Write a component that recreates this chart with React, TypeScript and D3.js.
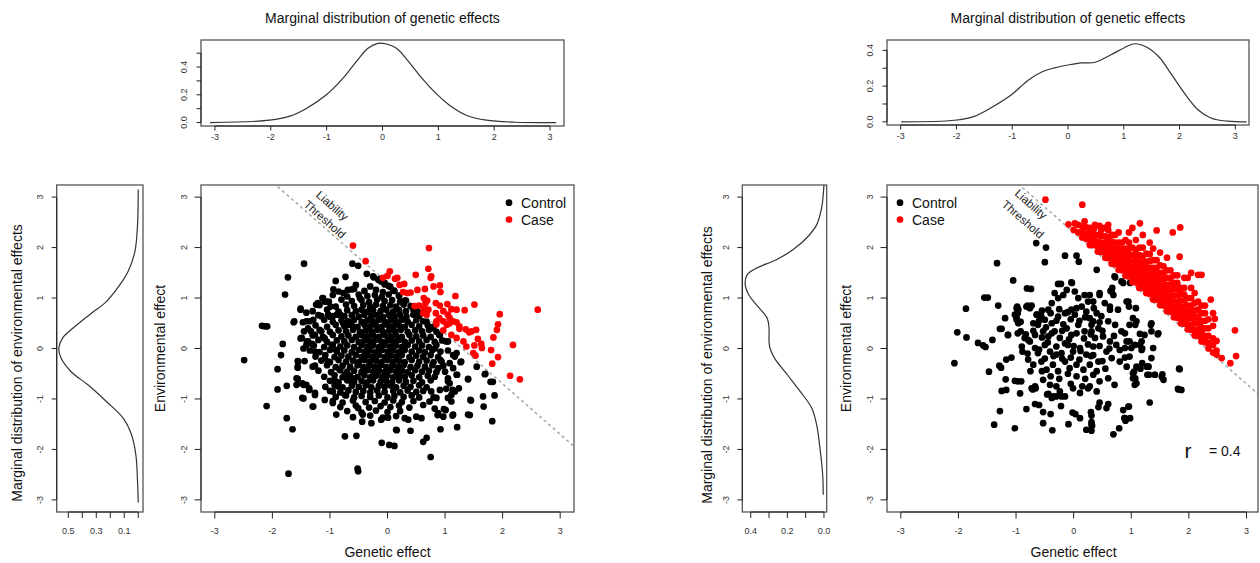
import React, { useRef, useEffect } from "react";
import * as d3 from "d3";

type Pt = [number, number];

// tick values / labels
const effectTicks = [-3, -2, -1, 0, 1, 2, 3];
const densTicksA = [0, 0.1, 0.2, 0.3, 0.4, 0.5];
const densTopLabelsA = [0, 0.2, 0.4];
const densSideLabelsA = [0.1, 0.3, 0.5];
const densTicksB = [0, 0.1, 0.2, 0.3, 0.4];
const densLabelsB = [0, 0.2, 0.4];

const titleText = "Marginal distribution of genetic effects";
const sideTitleText = "Marginal distribution of environmental effects";
const xLabelText = "Genetic effect";
const yLabelText = "Environmental effect";
const legendLabels = ["Control", "Case"];
const thresholdLabels = ["Liability", "Threshold"];

// liability thresholds (genetic + environmental)
const thresholdA = 1.3;
const thresholdB = 2.3;
const corrSymbol = "r";
const corrValue = "= 0.4";

// marginal densities [effect, density]
const genDensityA: Pt[] = [
  [-3.09, 0], [-2.02, 0.017], [-1.66, 0.046], [-1.37, 0.1], [-1.01, 0.198], [-0.71, 0.318],
  [-0.47, 0.439], [-0.26, 0.535], [-0.08, 0.571], [0.07, 0.566], [0.25, 0.535], [0.42, 0.463],
  [0.66, 0.342], [0.9, 0.234], [1.2, 0.125], [1.5, 0.053], [1.86, 0.017], [2.39, 0.002], [3.11, 0],
];
const envDensityA: Pt[] = [
  [-3.05, 0], [-2.64, 0.005], [-2.11, 0.017], [-1.71, 0.048], [-1.38, 0.108], [-1.05, 0.228],
  [-0.72, 0.36], [-0.46, 0.48], [-0.19, 0.552], [0.01, 0.568], [0.21, 0.54], [0.4, 0.468],
  [0.67, 0.348], [0.93, 0.228], [1.26, 0.132], [1.53, 0.072], [1.92, 0.024], [2.45, 0.005], [3.15, 0],
];
const genDensityB: Pt[] = [
  [-2.99, 0], [-2.03, 0.009], [-1.68, 0.031], [-1.44, 0.068], [-1.02, 0.15], [-0.72, 0.232],
  [-0.48, 0.278], [-0.24, 0.302], [0.0, 0.318], [0.24, 0.33], [0.47, 0.332], [0.77, 0.375],
  [1.01, 0.415], [1.19, 0.437], [1.43, 0.415], [1.64, 0.36], [1.85, 0.268], [2.09, 0.159],
  [2.33, 0.068], [2.56, 0.022], [2.86, 0.004], [3.2, 0],
];
const envDensityB: Pt[] = [
  [-2.9, 0.004], [-2.5, 0.007], [-1.97, 0.022], [-1.51, 0.04], [-1.18, 0.067], [-0.85, 0.13],
  [-0.52, 0.2], [-0.19, 0.27], [0.01, 0.295], [0.14, 0.3], [0.4, 0.3], [0.6, 0.31], [0.87, 0.37],
  [1.06, 0.41], [1.26, 0.43], [1.46, 0.42], [1.59, 0.37], [1.76, 0.26], [1.96, 0.168],
  [2.19, 0.095], [2.45, 0.04], [2.78, 0.013], [3.24, 0],
];

// left figure: [genetic, environmental]
const controlA: Pt[] = [
  [-2.49, -0.23], [-2.18, 0.45], [-2.13, 0.44], [-2.09, 0.44], [-2.1, -1.14], [-1.91, -0.41], [-1.91, -0.81],
  [-1.85, -0.13], [-1.82, 0.09], [-1.78, 1.07], [-1.73, 1.41], [-1.75, -0.74], [-1.75, -1.38], [-1.72, -2.48],
  [-1.65, -1.6], [-1.62, 0.54], [-1.45, 1.68], [-1.51, 0.77], [-1.49, 0.21], [-1.46, 0.0], [-1.55, -0.26],
  [-1.56, -0.38], [-1.56, -0.6], [-1.58, -0.72], [-1.46, -0.72], [-1.46, -0.99], [-1.36, -0.82], [-1.29, -1.15],
  [-1.26, -0.92], [-1.21, 0.9], [-1.12, 1.0], [-1.07, 0.93], [-0.94, 1.17], [-0.9, 1.34], [-0.73, 1.42],
  [-0.61, 1.68], [-0.51, 1.64], [-0.36, 1.48], [-0.24, 1.41], [-0.13, 1.38], [-0.74, -1.74], [-0.54, -1.73],
  [-0.52, -2.38], [-0.51, -2.43], [-0.1, -1.87], [0.03, -1.91], [0.12, -1.93], [0.16, -1.62], [0.4, -1.63],
  [0.62, -1.85], [0.68, -1.77], [0.75, -2.15], [0.92, -1.6], [1.21, -1.56], [1.43, -1.32], [1.45, -1.03],
  [1.4, -0.61], [1.66, -0.95], [1.67, -1.15], [1.82, -1.44], [1.79, -0.66], [1.83, -0.66], [1.86, -0.93],
  [1.7, -0.5], [1.55, -0.36], [1.27, -0.27], [1.17, -0.16], [1.21, -0.52], [1.24, -0.79], [1.11, -0.92],
  [1.13, -0.82], [1.13, -1.33], [1.01, -1.22], [0.97, -1.35], [0.87, -1.32], [0.82, -1.19], [0.8, -0.97],
  [1.05, -0.59], [1.08, -0.69], [1.0, -0.46], [0.97, -0.34],
  [-0.25, 1.43], [-0.16, 1.36], [-0.11, 1.33], [-0.77, 1.1], [-0.69, 1.16], [-0.58, 1.18], [-0.48, 1.0],
  [-1.13, 1.0], [-1.09, 0.93], [-1.24, 0.87], [-0.99, 0.83], [-1.51, 0.79], [-1.41, 0.71], [-1.63, 0.52],
  [-1.47, 0.52], [-1.41, 0.54], [-1.29, 0.57], [-1.15, 0.64], [-1.03, 0.67], [-0.95, 0.64], [-0.82, 0.67],
  [-0.77, 0.5], [-0.69, 0.47], [-1.33, 0.34], [-1.26, 0.27], [-1.38, 0.4], [-1.51, 0.2], [-1.15, 0.34],
  [-1.09, 0.2], [-0.97, 0.07], [-0.89, -0.03], [-1.41, 0.07], [-1.38, 0.14], [-1.31, 0.09], [-1.26, -0.06],
  [-1.09, -0.19], [-1.03, -0.26], [-1.56, -0.25], [-1.44, -0.25], [-1.56, -0.36], [-1.26, -0.34], [-1.58, -0.59],
  [-1.48, -0.69], [-1.41, -0.72], [-1.36, -0.79], [-1.26, -0.88], [-1.48, -0.98], [-1.3, -1.15], [-1.09, -1.02],
  [-0.95, -0.85], [-0.86, -0.75], [-0.95, -1.08], [-0.89, -1.31], [-0.74, -0.92], [-0.83, -0.42], [-0.74, -0.52],
  [-0.92, -0.62], [-0.63, -0.65], [-0.57, -0.59], [-0.51, -1.18], [-0.43, -1.31], [-0.28, -1.48], [-0.44, -1.45],
  [-0.11, -1.41],
  [1.02, 0.14], [1.28, -0.26], [1.2, -0.52], [1.4, -0.6], [1.69, -0.51], [1.44, -1.02], [1.4, -1.31],
  [1.14, -1.31], [0.88, -1.28], [0.98, -1.2], [1.11, -1.05], [1.17, -0.85], [1.05, -0.98], [1.02, -0.8],
  [0.85, -0.98], [0.91, -0.82], [0.73, -1.05], [0.76, -0.85], [0.62, -1.12], [0.59, -1.38], [0.3, -1.38],
  [0.15, -1.61], [0.36, -1.41], [0.01, -1.37], [0.5, -1.35], [1.2, -0.09], [1.14, -0.13], [1.08, -0.29],
  [1.14, -0.39], [1.05, -0.65], [0.94, -0.26], [0.88, -0.39], [0.82, 0.0], [0.91, 0.27], [0.76, 0.4],
  [0.68, 0.53], [0.55, 0.7], [0.43, 0.83], [0.3, 0.95], [0.2, 1.05], [0.1, 1.15], [0.02, 1.24], [-0.05, 1.3],
  [-0.55, 1.26], [-0.3, 1.23], [-0.05, 1.27], [0.05, 1.22],
  [-0.85, 1.13], [-0.62, 1.17], [-0.4, 1.14], [-0.2, 1.16], [-0.08, 1.12], [0.12, 1.14],
  [-0.95, 1.06], [-0.7, 1.03], [-0.5, 1.07], [-0.35, 1.04], [-0.22, 1.06], [-0.1, 1.02], [0.02, 1.07], [0.2, 1.04],
  [-1.02, 0.93], [-0.8, 0.97], [-0.62, 0.94], [-0.45, 0.96], [-0.32, 0.92], [-0.18, 0.97], [-0.05, 0.94],
  [0.08, 0.96], [0.22, 0.93], [0.32, 0.95],
  [-1.18, 0.86], [-0.9, 0.83], [-0.72, 0.87], [-0.58, 0.84], [-0.42, 0.86], [-0.3, 0.82], [-0.2, 0.87],
  [-0.08, 0.84], [0.05, 0.86], [0.15, 0.83], [0.28, 0.87], [0.4, 0.84],
  [-1.3, 0.74], [-1.05, 0.77], [-0.85, 0.73], [-0.7, 0.76], [-0.55, 0.74], [-0.45, 0.77], [-0.35, 0.73],
  [-0.25, 0.76], [-0.12, 0.74], [-0.02, 0.77], [0.1, 0.73], [0.2, 0.76], [0.32, 0.74], [0.45, 0.77], [0.52, 0.73],
  [-1.2, 0.66], [-1.0, 0.63], [-0.88, 0.67], [-0.75, 0.64], [-0.62, 0.66], [-0.5, 0.63], [-0.4, 0.67],
  [-0.28, 0.64], [-0.18, 0.66], [-0.08, 0.62], [0.02, 0.67], [0.12, 0.64], [0.22, 0.66], [0.33, 0.63],
  [0.45, 0.67], [0.55, 0.64],
  [-1.35, 0.54], [-1.1, 0.57], [-0.95, 0.53], [-0.8, 0.56], [-0.68, 0.54], [-0.58, 0.57], [-0.45, 0.53],
  [-0.35, 0.56], [-0.25, 0.54], [-0.15, 0.57], [-0.05, 0.53], [0.05, 0.56], [0.15, 0.54], [0.25, 0.57],
  [0.35, 0.53], [0.5, 0.56], [0.62, 0.54],
  [-1.25, 0.46], [-1.05, 0.43], [-0.9, 0.47], [-0.75, 0.44], [-0.62, 0.46], [-0.52, 0.43], [-0.4, 0.47],
  [-0.3, 0.44], [-0.2, 0.46], [-0.1, 0.43], [0.0, 0.47], [0.1, 0.44], [0.2, 0.46], [0.3, 0.43], [0.42, 0.47],
  [0.55, 0.44], [0.7, 0.46], [0.8, 0.43],
  [-1.45, 0.34], [-1.18, 0.37], [-1.0, 0.33], [-0.85, 0.36], [-0.72, 0.34], [-0.6, 0.37], [-0.48, 0.33],
  [-0.38, 0.36], [-0.28, 0.34], [-0.18, 0.37], [-0.08, 0.33], [0.03, 0.36], [0.13, 0.34], [0.23, 0.37],
  [0.35, 0.33], [0.48, 0.36], [0.6, 0.34], [0.72, 0.37], [0.85, 0.33],
  [-1.3, 0.26], [-1.12, 0.23], [-0.95, 0.27], [-0.8, 0.24], [-0.68, 0.26], [-0.55, 0.23], [-0.45, 0.27],
  [-0.35, 0.24], [-0.25, 0.26], [-0.15, 0.23], [-0.05, 0.27], [0.05, 0.24], [0.15, 0.26], [0.25, 0.23],
  [0.38, 0.27], [0.5, 0.24], [0.62, 0.26], [0.75, 0.23], [0.9, 0.27],
  [-1.4, 0.14], [-1.2, 0.17], [-1.05, 0.13], [-0.88, 0.16], [-0.75, 0.14], [-0.62, 0.17], [-0.5, 0.13],
  [-0.4, 0.16], [-0.3, 0.14], [-0.2, 0.17], [-0.1, 0.13], [0.0, 0.16], [0.1, 0.14], [0.2, 0.17], [0.3, 0.13],
  [0.42, 0.16], [0.55, 0.14], [0.68, 0.17], [0.82, 0.13], [0.95, 0.16], [1.05, 0.14],
  [-1.28, 0.06], [-1.1, 0.03], [-0.95, 0.07], [-0.82, 0.04], [-0.7, 0.06], [-0.58, 0.03], [-0.45, 0.07],
  [-0.35, 0.04], [-0.25, 0.06], [-0.15, 0.03], [-0.05, 0.07], [0.05, 0.04], [0.15, 0.06], [0.25, 0.03],
  [0.35, 0.07], [0.48, 0.04], [0.6, 0.06], [0.72, 0.03], [0.85, 0.07],
  [-1.35, -0.04], [-1.18, -0.07], [-1.0, -0.03], [-0.88, -0.06], [-0.75, -0.04], [-0.62, -0.07], [-0.5, -0.03],
  [-0.4, -0.06], [-0.3, -0.04], [-0.2, -0.07], [-0.1, -0.03], [0.0, -0.06], [0.1, -0.04], [0.2, -0.07],
  [0.3, -0.03], [0.42, -0.06], [0.55, -0.04], [0.65, -0.07], [0.78, -0.03], [0.92, -0.06], [1.05, -0.04],
  [-1.25, -0.16], [-1.08, -0.13], [-0.92, -0.17], [-0.8, -0.14], [-0.68, -0.16], [-0.55, -0.13], [-0.45, -0.17],
  [-0.35, -0.14], [-0.25, -0.16], [-0.15, -0.13], [-0.05, -0.17], [0.05, -0.14], [0.15, -0.16], [0.25, -0.13],
  [0.38, -0.17], [0.5, -0.14], [0.62, -0.16], [0.75, -0.13], [0.88, -0.17],
  [-1.15, -0.24], [-1.0, -0.27], [-0.85, -0.23], [-0.72, -0.26], [-0.6, -0.24], [-0.5, -0.27], [-0.4, -0.23],
  [-0.3, -0.26], [-0.2, -0.24], [-0.1, -0.27], [0.0, -0.23], [0.1, -0.26], [0.2, -0.24], [0.3, -0.27],
  [0.42, -0.23], [0.55, -0.26], [0.68, -0.24], [0.8, -0.27], [0.92, -0.23],
  [-1.3, -0.36], [-1.05, -0.33], [-0.9, -0.37], [-0.78, -0.34], [-0.65, -0.36], [-0.52, -0.33], [-0.42, -0.37],
  [-0.32, -0.34], [-0.22, -0.36], [-0.12, -0.33], [-0.02, -0.37], [0.08, -0.34], [0.18, -0.36], [0.28, -0.33],
  [0.4, -0.37], [0.52, -0.34], [0.65, -0.36], [0.78, -0.33],
  [-1.2, -0.44], [-0.98, -0.47], [-0.82, -0.43], [-0.7, -0.46], [-0.58, -0.44], [-0.45, -0.47], [-0.35, -0.43],
  [-0.25, -0.46], [-0.15, -0.44], [-0.05, -0.47], [0.05, -0.43], [0.15, -0.46], [0.25, -0.44], [0.35, -0.47],
  [0.48, -0.43], [0.6, -0.46], [0.72, -0.44], [0.85, -0.47],
  [-1.1, -0.56], [-0.92, -0.53], [-0.78, -0.57], [-0.65, -0.54], [-0.52, -0.56], [-0.4, -0.53], [-0.3, -0.57],
  [-0.2, -0.54], [-0.1, -0.56], [0.0, -0.53], [0.1, -0.57], [0.2, -0.54], [0.3, -0.56], [0.42, -0.53],
  [0.55, -0.57], [0.7, -0.54], [0.82, -0.56],
  [-1.0, -0.64], [-0.85, -0.67], [-0.7, -0.63], [-0.58, -0.66], [-0.45, -0.64], [-0.35, -0.67], [-0.25, -0.63],
  [-0.12, -0.66], [-0.02, -0.64], [0.08, -0.67], [0.2, -0.63], [0.32, -0.66], [0.45, -0.64], [0.6, -0.67], [0.75, -0.63],
  [-1.08, -0.76], [-0.92, -0.73], [-0.78, -0.77], [-0.62, -0.74], [-0.5, -0.76], [-0.38, -0.73], [-0.28, -0.77],
  [-0.15, -0.74], [-0.05, -0.76], [0.05, -0.73], [0.15, -0.77], [0.28, -0.74], [0.4, -0.76], [0.55, -0.73], [0.68, -0.77],
  [-1.0, -0.84], [-0.82, -0.87], [-0.68, -0.83], [-0.55, -0.86], [-0.42, -0.84], [-0.3, -0.87], [-0.18, -0.83],
  [-0.05, -0.86], [0.1, -0.84], [0.22, -0.87], [0.35, -0.83], [0.5, -0.86], [0.62, -0.84],
  [-0.9, -0.96], [-0.72, -0.93], [-0.58, -0.97], [-0.45, -0.94], [-0.3, -0.96], [-0.15, -0.93], [0.0, -0.97],
  [0.12, -0.94], [0.28, -0.96], [0.42, -0.93], [0.55, -0.97],
  [-0.95, -1.04], [-0.78, -1.07], [-0.6, -1.03], [-0.38, -1.06], [-0.22, -1.04], [-0.05, -1.07], [0.1, -1.03],
  [0.25, -1.06], [0.45, -1.04],
  [-0.82, -1.16], [-0.55, -1.13], [-0.32, -1.17], [-0.12, -1.14], [0.05, -1.16], [0.2, -1.13], [0.38, -1.17],
  [-0.7, -1.24], [-0.45, -1.27], [-0.2, -1.23], [0.0, -1.26], [0.22, -1.24],
  [-0.6, -1.36], [-0.3, -1.33], [-0.08, -1.37], [0.15, -1.34],
];
const caseA: Pt[] = [
  [-0.6, 2.04], [-0.38, 1.73], [0.72, 1.99], [0.04, 1.53], [0.0, 1.44], [0.13, 1.38], [0.17, 1.4], [0.29, 1.28],
  [0.49, 1.46], [0.71, 1.58], [0.76, 1.43], [0.75, 1.4], [0.27, 1.12], [0.34, 1.1], [0.4, 1.11], [0.52, 1.16],
  [0.65, 1.18], [0.8, 1.23], [0.91, 1.25], [0.92, 1.12], [1.18, 1.04], [0.63, 1.0], [0.69, 0.95], [0.66, 0.9],
  [0.84, 0.9], [0.91, 0.85], [1.04, 0.88], [0.55, 0.85], [0.47, 0.84], [0.63, 0.8], [0.71, 0.77], [0.62, 0.7],
  [0.68, 0.67], [0.84, 0.7], [0.97, 0.74], [1.11, 0.78], [1.2, 0.77], [1.34, 0.76], [1.51, 0.87], [1.95, 0.68],
  [2.61, 0.77], [0.9, 0.6], [0.97, 0.54], [1.08, 0.5], [1.14, 0.54], [1.2, 0.52], [1.03, 0.47], [1.25, 0.44],
  [1.36, 0.38], [1.42, 0.32], [1.54, 0.37], [1.92, 0.48], [1.9, 0.37], [0.97, 0.36], [1.11, 0.27], [1.2, 0.21],
  [1.32, 0.14], [1.46, 0.34], [1.25, 0.39], [1.37, 0.04], [1.51, 0.06], [1.63, 0.09], [1.57, 0.19], [1.64, 0.01],
  [1.84, 0.22], [2.18, 0.07], [1.8, -0.03], [1.92, -0.17], [1.82, -0.3], [1.49, -0.09], [1.53, -0.14],
  [2.13, -0.54], [2.3, -0.61], [0.85, 0.54], [0.85, 0.48], [1.05, 0.67], [1.08, 0.6], [-0.08, 1.4], [0.21, 1.26],
];

// right figure
const controlB: Pt[] = [
  [-2.07, -0.29], [-2.02, 0.32], [-1.87, 0.79], [-1.86, 0.22], [-1.66, 0.11], [-1.57, 0.06], [-1.53, 0.03],
  [-1.55, 1.01], [-1.49, 1.01], [-1.47, -0.46], [-1.41, 0.17], [-1.33, 1.69], [-1.31, 0.85], [-1.29, -0.34],
  [-1.26, -0.38], [-1.25, 0.39], [-1.28, -1.24], [-1.38, -1.51], [-1.25, -0.84], [-1.19, 0.6], [-1.18, -0.61],
  [-1.14, 0.27], [-1.17, -0.22], [-1.08, -0.18], [-1.05, 1.35], [-1.02, -0.64], [-0.97, -0.65], [-0.91, -0.65],
  [-0.93, -0.89], [-1.02, -1.58], [-0.99, 0.8], [-0.97, 0.7], [-0.99, 0.6], [-0.96, 0.5], [-0.97, 0.3],
  [-0.83, 0.28], [-0.79, 0.17], [-0.81, 1.19], [-0.74, 1.18], [-0.82, -1.2], [-0.8, 0.85], [-0.73, 0.85],
  [-0.71, -0.81], [-0.66, -0.79], [-0.67, -1.1], [-0.6, -1.12], [-0.65, 2.09], [-0.64, 0.67], [-0.59, 0.64],
  [-0.53, -1.26], [-0.53, -1.48], [-0.5, 1.71], [-0.48, 2.0], [-0.4, -1.3], [-0.37, -1.62], [-0.38, -0.98],
  [-0.3, -0.95], [-0.21, -0.95], [-0.46, -0.91], [-0.22, -1.14], [-0.15, 1.84], [-0.09, -1.5], [-0.02, -1.27],
  [0.03, -1.3], [0.11, -1.38], [0.05, 1.84], [0.09, 1.72], [-0.03, 1.3], [0.22, -1.61], [0.31, -1.63],
  [0.31, -1.46], [0.32, -1.53], [0.3, -1.26], [0.31, -1.33], [0.4, 1.56], [0.45, 1.06], [0.45, -1.07],
  [0.43, -1.16], [0.6, -1.1], [0.63, 0.77], [0.67, 1.2], [0.64, 1.14], [0.69, -1.7], [0.72, 1.41],
  [0.79, -1.58], [0.83, 1.33], [0.86, -1.22], [0.88, -1.38], [0.9, -1.43], [0.96, -1.15], [0.98, -1.38],
  [0.95, 0.93], [0.96, 0.83], [0.98, 1.3], [1.06, 0.07], [1.07, 0.47], [1.08, 0.8], [1.05, -0.46],
  [1.07, -0.59], [1.09, -0.69], [1.18, 0.14], [1.19, 0.0], [1.27, -0.36], [1.3, -0.36], [1.28, -0.52],
  [1.34, 0.47], [1.35, 0.34], [1.32, -1.07], [1.46, 0.28], [1.38, 0.01], [1.41, -0.52], [1.54, -0.51],
  [1.56, -0.62], [1.83, -0.4], [1.82, -0.81], [1.87, -0.82], [1.16, -0.4], [1.19, -0.29], [0.97, 0.14],
  [0.97, -0.16], [0.89, 0.01], [0.89, -0.18],
  [-0.27, 1.28], [-0.22, 1.28], [-0.04, 1.31], [-0.33, 1.1], [-0.27, 1.0], [-0.18, 1.06], [-0.12, 1.16],
  [0.02, 1.13], [0.08, 1.0], [0.19, 1.06], [0.25, 0.93], [-0.38, 0.9], [-0.44, 0.77], [-0.98, 0.83],
  [-0.96, 0.77], [-0.82, 0.83], [-0.76, 0.8], [-1.02, 0.67], [-0.99, 0.57], [-0.92, 0.53], [-0.64, 0.67],
  [-0.56, 0.63], [-0.7, 0.5], [-0.62, 0.47], [-0.5, 0.57], [-0.38, 0.5], [-0.27, 0.63], [-0.15, 0.7],
  [-0.04, 0.77], [0.02, 0.67], [0.14, 0.83], [0.22, 0.73], [-1.28, 0.39], [-1.14, 0.27], [-0.92, 0.34],
  [-0.85, 0.21], [-0.76, 0.14], [-0.67, 0.27], [-0.53, 0.34], [-0.44, 0.24], [-0.33, 0.34], [-0.24, 0.21],
  [-0.12, 0.4], [-0.04, 0.27], [0.08, 0.47], [0.19, 0.34], [0.31, 0.47], [-0.9, 0.04], [-0.89, -0.06],
  [-0.67, 0.01], [-0.62, -0.09], [-0.5, 0.07], [-0.41, -0.06], [-0.3, 0.04], [-0.21, -0.09], [-0.1, 0.07],
  [-0.01, -0.06], [0.11, 0.01], [0.22, -0.12], [0.34, 0.04], [-0.79, -0.22], [-0.7, -0.32], [-0.56, -0.26],
  [-0.47, -0.42], [-0.36, -0.32], [-0.27, -0.45], [-0.15, -0.26], [-0.07, -0.39], [0.05, -0.32], [0.17, -0.42],
  [0.28, -0.32], [-1.17, -0.82], [-0.73, -0.79], [-0.67, -0.75], [-0.53, -0.62], [-0.41, -0.72], [-0.44, -0.9],
  [-0.36, -0.95], [-0.24, -0.85], [-0.15, -0.95], [-0.01, -0.79], [0.11, -0.88], [0.25, -0.79],
  [0.71, 1.43], [0.86, 1.3], [0.66, 1.13], [0.69, 1.06], [0.45, 1.1], [0.28, 1.06], [0.34, 0.93], [0.54, 0.9],
  [0.63, 0.83], [0.77, 0.77], [0.92, 0.93], [0.4, 0.7], [0.48, 0.64], [0.34, 0.54], [0.43, 0.4], [0.6, 0.54],
  [0.72, 0.47], [0.83, 0.34], [0.89, 0.3], [1.03, 0.6], [1.09, 0.54], [0.97, 0.47], [1.35, 0.5], [1.47, 0.3],
  [1.15, 0.29], [1.23, 0.27], [0.31, 0.34], [0.37, 0.21], [0.51, 0.24], [0.63, 0.14], [0.74, 0.07], [0.8, -0.03],
  [0.92, 0.14], [1.0, 0.01], [1.15, 0.07], [1.18, -0.03], [1.35, -0.19], [0.34, -0.13], [0.43, -0.26],
  [0.57, -0.06], [0.66, -0.19], [0.8, -0.26], [0.92, -0.36], [1.09, -0.36], [1.03, -0.49], [1.29, -0.36],
  [1.31, -0.52], [1.41, -0.52], [1.53, -0.56], [1.84, -0.41], [1.81, -0.8], [0.34, -0.52], [0.45, -0.65],
  [0.6, -0.59], [0.71, -0.72], [0.28, -0.75], [1.03, -0.59], [1.06, -0.72], [0.57, -1.18], [0.95, -1.15],
  [0.89, -1.38], [0.31, -1.51],
  [-0.55, 0.75], [-0.4, 0.7], [-0.25, 0.78], [-0.1, 0.72], [0.05, 0.8], [0.2, 0.62], [0.35, 0.8],
  [-0.6, 0.55], [-0.48, 0.42], [-0.3, 0.55], [-0.18, 0.48], [-0.05, 0.58], [0.1, 0.55], [0.28, 0.6], [0.45, 0.52],
  [-0.55, 0.22], [-0.38, 0.3], [-0.2, 0.35], [-0.08, 0.18], [0.05, 0.3], [0.18, 0.2], [0.3, 0.28], [0.5, 0.35],
  [-0.6, -0.02], [-0.45, 0.12], [-0.3, -0.12], [-0.15, 0.1], [0.0, 0.05], [0.12, -0.05], [0.25, 0.08], [0.45, 0.05],
  [-0.5, -0.2], [-0.35, -0.15], [-0.2, -0.2], [-0.05, -0.18], [0.1, -0.22], [0.3, -0.15], [0.5, -0.25],
  [-0.55, -0.45], [-0.4, -0.55], [-0.25, -0.6], [-0.1, -0.5], [0.05, -0.55], [0.2, -0.6], [0.4, -0.45],
  [-0.3, -0.75], [-0.05, -0.7], [0.15, -0.75], [0.4, -0.85], [0.55, -0.4], [0.62, 0.0], [0.7, 0.25],
  [-0.7, 0.35], [-0.8, -0.1], [-0.75, -0.45],
];
const caseB: Pt[] = [
  [-0.49, 2.95], [0.15, 2.85], [-0.09, 2.46], [0.02, 2.48], [0.19, 2.52], [0.37, 2.45], [0.45, 2.43],
  [0.54, 2.39], [0.6, 2.45], [1.02, 2.39], [1.15, 2.48], [1.44, 2.34], [1.72, 2.3], [1.85, 2.4], [1.84, 1.82],
  [2.16, 1.46], [2.22, 1.46], [2.38, 0.97], [2.42, 0.7], [2.45, 0.59],
  [0.0, 2.35], [0.08, 2.3], [0.08, 2.45], [0.15, 2.2], [0.15, 2.3], [0.15, 2.42],
  [0.22, 2.17], [0.22, 2.27], [0.22, 2.4], [0.28, 2.05], [0.28, 2.15], [0.28, 2.27], [0.28, 2.39],
  [0.35, 2.05], [0.35, 2.15], [0.35, 2.25], [0.35, 2.37], [0.42, 1.92], [0.42, 2.02], [0.42, 2.12], [0.42, 2.25],
  [0.48, 1.91], [0.48, 2.0], [0.48, 2.1], [0.48, 2.23], [0.48, 2.35],
  [0.55, 1.8], [0.55, 1.9], [0.55, 2.0], [0.55, 2.1], [0.55, 2.22],
  [0.6, 1.79], [0.6, 1.89], [0.6, 2.0], [0.6, 2.1], [0.6, 2.2], [0.6, 2.35],
  [0.66, 1.68], [0.66, 1.78], [0.66, 1.9], [0.66, 2.0], [0.66, 2.12], [0.66, 2.25],
  [0.72, 1.67], [0.72, 1.77], [0.72, 1.87], [0.72, 1.98], [0.72, 2.1], [0.72, 2.25],
  [0.78, 1.56], [0.78, 1.66], [0.78, 1.76], [0.78, 1.86], [0.78, 1.98], [0.78, 2.1], [0.78, 2.3],
  [0.84, 1.55], [0.84, 1.65], [0.84, 1.75], [0.84, 1.85], [0.84, 1.97], [0.84, 2.1],
  [0.9, 1.44], [0.9, 1.54], [0.9, 1.64], [0.9, 1.74], [0.9, 1.85], [0.9, 1.98], [0.9, 2.15],
  [0.96, 1.43], [0.96, 1.53], [0.96, 1.63], [0.96, 1.73], [0.96, 1.85], [0.96, 1.97], [0.96, 2.1], [0.96, 2.3],
  [1.02, 1.32], [1.02, 1.42], [1.02, 1.52], [1.02, 1.62], [1.02, 1.72], [1.02, 1.85], [1.02, 2.0],
  [1.08, 1.31], [1.08, 1.41], [1.08, 1.51], [1.08, 1.61], [1.08, 1.71], [1.08, 1.83], [1.08, 1.95], [1.08, 2.15],
  [1.14, 1.2], [1.14, 1.3], [1.14, 1.4], [1.14, 1.5], [1.14, 1.6], [1.14, 1.72], [1.14, 1.85], [1.14, 2.0],
  [1.2, 1.2], [1.2, 1.29], [1.2, 1.39], [1.2, 1.49], [1.2, 1.59], [1.2, 1.7], [1.2, 1.83], [1.2, 2.0], [1.2, 2.25],
  [1.26, 1.1], [1.26, 1.18], [1.26, 1.28], [1.26, 1.38], [1.26, 1.48], [1.26, 1.6], [1.26, 1.72], [1.26, 1.88],
  [1.32, 1.08], [1.32, 1.17], [1.32, 1.27], [1.32, 1.37], [1.32, 1.47], [1.32, 1.6], [1.32, 1.73], [1.32, 1.87], [1.32, 2.1],
  [1.38, 0.97], [1.38, 1.06], [1.38, 1.16], [1.38, 1.26], [1.38, 1.36], [1.38, 1.48], [1.38, 1.6], [1.38, 1.75], [1.38, 1.98],
  [1.44, 0.97], [1.44, 1.05], [1.44, 1.15], [1.44, 1.25], [1.44, 1.35], [1.44, 1.47], [1.44, 1.6], [1.44, 1.75],
  [1.5, 0.86], [1.5, 0.95], [1.5, 1.05], [1.5, 1.15], [1.5, 1.25], [1.5, 1.38], [1.5, 1.5], [1.5, 1.65], [1.5, 1.9],
  [1.56, 0.85], [1.56, 0.95], [1.56, 1.05], [1.56, 1.15], [1.56, 1.25], [1.56, 1.37], [1.56, 1.5], [1.56, 1.63],
  [1.62, 0.74], [1.62, 0.84], [1.62, 0.94], [1.62, 1.04], [1.62, 1.14], [1.62, 1.26], [1.62, 1.4], [1.62, 1.55], [1.62, 1.8],
  [1.68, 0.73], [1.68, 0.83], [1.68, 0.93], [1.68, 1.03], [1.68, 1.15], [1.68, 1.27], [1.68, 1.4], [1.68, 1.55],
  [1.74, 0.62], [1.74, 0.72], [1.74, 0.82], [1.74, 0.93], [1.74, 1.05], [1.74, 1.18], [1.74, 1.3], [1.74, 1.45],
  [1.8, 0.61], [1.8, 0.71], [1.8, 0.81], [1.8, 0.92], [1.8, 1.05], [1.8, 1.17], [1.8, 1.3], [1.8, 1.45],
  [1.86, 0.5], [1.86, 0.6], [1.86, 0.7], [1.86, 0.82], [1.86, 0.95], [1.86, 1.08], [1.86, 1.2],
  [1.92, 0.49], [1.92, 0.59], [1.92, 0.7], [1.92, 0.82], [1.92, 0.95], [1.92, 1.07], [1.92, 1.2], [1.92, 1.4],
  [1.98, 0.38], [1.98, 0.48], [1.98, 0.6], [1.98, 0.72], [1.98, 0.85], [1.98, 1.0], [1.98, 1.4],
  [2.04, 0.37], [2.04, 0.47], [2.04, 0.6], [2.04, 0.73], [2.04, 0.85], [2.04, 1.0], [2.04, 1.2], [2.04, 1.5],
  [2.1, 0.26], [2.1, 0.37], [2.1, 0.5], [2.1, 0.62], [2.1, 0.75], [2.1, 0.9], [2.1, 1.1],
  [2.16, 0.25], [2.16, 0.37], [2.16, 0.5], [2.16, 0.63], [2.16, 0.77], [2.16, 0.93],
  [2.22, 0.14], [2.22, 0.21], [2.22, 0.3], [2.22, 0.42], [2.22, 0.55], [2.22, 0.7], [2.22, 0.85],
  [2.28, 0.13], [2.28, 0.25], [2.28, 0.4], [2.28, 0.55], [2.28, 0.7], [2.28, 0.85],
  [2.34, 0.0], [2.34, 0.11], [2.34, 0.25], [2.34, 0.4], [2.34, 0.58],
  [2.42, -0.08], [2.42, 0.07], [2.42, 0.2], [2.42, 0.45],
  [2.48, -0.12], [2.48, -0.04], [2.48, 0.15], [2.57, -0.19], [2.72, -0.29], [2.8, 0.36], [2.82, -0.15],
  [2.32, 0.11], [2.13, 0.37],
];

type Box = { x0: number; y0: number; x1: number; y1: number };

const figures = [
  {
    top: { x0: 201, y0: 40, x1: 564, y1: 126 } as Box,
    topX: [-3.25, 3.25], topY: [-0.025, 0.595],
    topTicks: densTicksA, topLabels: densTopLabelsA,
    side: { x0: 56.7, y0: 185, x1: 143, y1: 512 } as Box,
    sideX: [0.583, -0.034],
    sideTicks: densTicksA, sideLabels: densSideLabelsA,
    sideTitle: { x: 17.3, y: 363 },
    main: { x0: 201, y0: 185, x1: 574, y1: 512 } as Box,
    mainX: [-3.24, 3.24], mainY: [-3.24, 3.24],
    genDensity: genDensityA, envDensity: envDensityA,
    control: controlA, cases: caseA, threshold: thresholdA,
    labelAt: [[-0.96, 2.83], [-1.09, 2.56]] as Pt[],
    legend: { x: 509, y: 202.7 },
    corr: false,
  },
  {
    top: { x0: 887, y0: 40, x1: 1249, y1: 125 } as Box,
    topX: [-3.245, 3.245], topY: [-0.0175, 0.458],
    topTicks: densTicksB, topLabels: densLabelsB,
    side: { x0: 742.3, y0: 185, x1: 826.7, y1: 512 } as Box,
    sideX: [0.446, -0.015],
    sideTicks: densTicksB, sideLabels: densLabelsB,
    sideTitle: { x: 706.7, y: 365 },
    main: { x0: 887, y0: 185, x1: 1258, y1: 512 } as Box,
    mainX: [-3.24, 3.2], mainY: [-3.24, 3.24],
    genDensity: genDensityB, envDensity: envDensityB,
    control: controlB, cases: caseB, threshold: thresholdB,
    labelAt: [[-0.74, 2.86], [-0.88, 2.56]] as Pt[],
    legend: { x: 900, y: 202.7 },
    corr: true,
  },
];

const FONT = "'Liberation Sans', Arial, Helvetica, sans-serif";
const TICK_COLOR = "#333";
const DOT_R = 3.35;

const App = () => {
  const svgRef = useRef<SVGSVGElement>(null);

  useEffect(() => {
    document.body.style.margin = "0";
    const svg = d3.select(svgRef.current);
    svg.selectAll("*").remove();

    const fmt = d3.format(".1f");
    const intFmt = (v: number) => d3.format("d")(v).replace("−", "-");

    const drawBox = (g: any, b: Box) =>
      g.append("rect")
        .attr("x", b.x0).attr("y", b.y0)
        .attr("width", b.x1 - b.x0).attr("height", b.y1 - b.y0)
        .attr("fill", "none").attr("stroke", "#555").attr("stroke-width", 1.3);

    // R style axis: the line only spans first..last tick
    const bottomAxis = (g: any, scale: any, ticks: number[], labels: number[], yPos: number,
      tickLen: number, labelOff: number, format: (v: number) => string) => {
      const a = g.append("g").attr("stroke", "#222");
      a.append("line")
        .attr("x1", scale(ticks[0])).attr("x2", scale(ticks[ticks.length - 1]))
        .attr("y1", yPos).attr("y2", yPos);
      a.selectAll(".tk").data(ticks).enter().append("line")
        .attr("x1", (d: number) => scale(d)).attr("x2", (d: number) => scale(d))
        .attr("y1", yPos).attr("y2", yPos + tickLen);
      g.selectAll(".tl").data(labels).enter().append("text")
        .attr("x", (d: number) => scale(d)).attr("y", yPos + labelOff)
        .attr("text-anchor", "middle").attr("dominant-baseline", "central")
        .style("font-family", FONT).style("font-size", "9px").style("fill", TICK_COLOR)
        .text((d: number) => format(d));
    };

    const leftAxis = (g: any, scale: any, ticks: number[], labels: number[], xPos: number,
      tickLen: number, labelOff: number, format: (v: number) => string) => {
      const a = g.append("g").attr("stroke", "#222");
      a.append("line")
        .attr("y1", scale(ticks[0])).attr("y2", scale(ticks[ticks.length - 1]))
        .attr("x1", xPos).attr("x2", xPos);
      a.selectAll(".tk").data(ticks).enter().append("line")
        .attr("y1", (d: number) => scale(d)).attr("y2", (d: number) => scale(d))
        .attr("x1", xPos).attr("x2", xPos - tickLen);
      g.selectAll(".tl").data(labels).enter().append("text")
        .attr("transform", (d: number) => `translate(${xPos - labelOff},${scale(d)}) rotate(-90)`)
        .attr("text-anchor", "middle").attr("dominant-baseline", "central")
        .style("font-family", FONT).style("font-size", "9px").style("fill", TICK_COLOR)
        .text((d: number) => format(d));
    };

    figures.forEach((f, i) => {
      const g = svg.append("g");

      // ---- top marginal (genetic)
      const tx = d3.scaleLinear().domain(f.topX).range([f.top.x0, f.top.x1]);
      const ty = d3.scaleLinear().domain(f.topY).range([f.top.y1, f.top.y0]);
      drawBox(g, f.top);
      g.append("path")
        .datum(f.genDensity)
        .attr("d", d3.line<Pt>().x((d) => tx(d[0])).y((d) => ty(d[1])).curve(d3.curveCatmullRom.alpha(0.5)))
        .attr("fill", "none").attr("stroke", "#333").attr("stroke-width", 1.2);
      bottomAxis(g.append("g"), tx, effectTicks, effectTicks, f.top.y1, 4.5, 10.7, intFmt);
      leftAxis(g.append("g"), ty, f.topTicks, f.topLabels, f.top.x0, 4.5, 17.5, fmt);
      g.append("text")
        .attr("x", (f.top.x0 + f.top.x1) / 2).attr("y", 18.3)
        .attr("text-anchor", "middle").attr("dominant-baseline", "central")
        .style("font-family", FONT).style("font-size", "14px").style("fill", "#111")
        .text(titleText);

      // ---- side marginal (environmental)
      const sx = d3.scaleLinear().domain(f.sideX).range([f.side.x0, f.side.x1]);
      const sy = d3.scaleLinear().domain(f.mainY).range([f.side.y1, f.side.y0]);
      drawBox(g, f.side);
      g.append("path")
        .datum(f.envDensity)
        .attr("d", d3.line<Pt>().x((d) => sx(d[1])).y((d) => sy(d[0])).curve(d3.curveCatmullRom.alpha(0.5)))
        .attr("fill", "none").attr("stroke", "#333").attr("stroke-width", 1.2);
      bottomAxis(g.append("g"), sx, f.sideTicks, f.sideLabels, f.side.y1, 6, 19, fmt);
      leftAxis(g.append("g"), sy, effectTicks, effectTicks, f.side.x0, 5, 16.7, intFmt);
      g.append("text")
        .attr("transform", `translate(${f.sideTitle.x},${f.sideTitle.y}) rotate(-90)`)
        .attr("text-anchor", "middle").attr("dominant-baseline", "central")
        .style("font-family", FONT).style("font-size", "14px").style("fill", "#111")
        .text(sideTitleText);

      // ---- main scatter
      const mx = d3.scaleLinear().domain(f.mainX).range([f.main.x0, f.main.x1]);
      const my = d3.scaleLinear().domain(f.mainY).range([f.main.y1, f.main.y0]);
      const clipId = `clip-main-${i}`;
      svg.append("defs").append("clipPath").attr("id", clipId)
        .append("rect")
        .attr("x", f.main.x0).attr("y", f.main.y0)
        .attr("width", f.main.x1 - f.main.x0).attr("height", f.main.y1 - f.main.y0);
      const plot = g.append("g").attr("clip-path", `url(#${clipId})`);

      const lx0 = f.mainX[0], lx1 = f.mainX[1];
      plot.append("line")
        .attr("x1", mx(lx0)).attr("y1", my(f.threshold - lx0))
        .attr("x2", mx(lx1)).attr("y2", my(f.threshold - lx1))
        .attr("stroke", "#aaa").attr("stroke-width", 1.6).attr("stroke-dasharray", "3,3");

      plot.selectAll(".ctrl").data(f.control).enter().append("circle")
        .attr("cx", (d: Pt) => mx(d[0])).attr("cy", (d: Pt) => my(d[1]))
        .attr("r", DOT_R).attr("fill", "#000");
      plot.selectAll(".case").data(f.cases).enter().append("circle")
        .attr("cx", (d: Pt) => mx(d[0])).attr("cy", (d: Pt) => my(d[1]))
        .attr("r", DOT_R).attr("fill", "#ff0000");

      drawBox(g, f.main);
      bottomAxis(g.append("g"), mx, effectTicks, effectTicks, f.main.y1, 6.5, 19, intFmt);
      leftAxis(g.append("g"), my, effectTicks, effectTicks, f.main.x0, 6.5, 17.4, intFmt);

      g.append("text")
        .attr("x", (mx(-3) + mx(3)) / 2).attr("y", 551.5)
        .attr("text-anchor", "middle").attr("dominant-baseline", "central")
        .style("font-family", FONT).style("font-size", "14px").style("fill", "#111")
        .text(xLabelText);
      g.append("text")
        .attr("transform", `translate(${f.main.x0 - 41},${(f.main.y0 + f.main.y1) / 2}) rotate(-90)`)
        .attr("text-anchor", "middle").attr("dominant-baseline", "central")
        .style("font-family", FONT).style("font-size", "14px").style("fill", "#111")
        .text(yLabelText);

      // threshold annotation, rotated along the line
      const ang = (Math.atan2(my(f.threshold - 1) - my(f.threshold), mx(1) - mx(0)) * 180) / Math.PI;
      f.labelAt.forEach((p, k) => {
        g.append("text")
          .attr("transform", `translate(${mx(p[0])},${my(p[1])}) rotate(${ang})`)
          .attr("text-anchor", "middle").attr("dominant-baseline", "central")
          .style("font-family", FONT).style("font-size", "11.5px").style("fill", "#222")
          .text(thresholdLabels[k]);
      });

      // legend
      const lg = g.append("g");
      ["#000", "#ff0000"].forEach((c, k) => {
        lg.append("circle").attr("cx", f.legend.x).attr("cy", f.legend.y + k * 16.8).attr("r", DOT_R).attr("fill", c);
        lg.append("text")
          .attr("x", f.legend.x + 12).attr("y", f.legend.y + k * 16.8)
          .attr("dominant-baseline", "central")
          .style("font-family", FONT).style("font-size", "14px").style("fill", "#111")
          .text(legendLabels[k]);
      });

      if (f.corr) {
        g.append("text")
          .attr("x", 1188).attr("y", 450)
          .attr("text-anchor", "middle").attr("dominant-baseline", "central")
          .style("font-family", FONT).style("font-size", "21px").style("fill", "#111")
          .text(corrSymbol);
        g.append("text")
          .attr("x", 1209).attr("y", 451)
          .attr("dominant-baseline", "central")
          .style("font-family", FONT).style("font-size", "14px").style("fill", "#111")
          .text(corrValue);
      }
    });
  }, []);

  return (
    <div style={{ width: 1260, height: 563, background: "#fff" }}>
      <svg ref={svgRef} width={1260} height={563} style={{ display: "block" }}></svg>
    </div>
  );
};

export default App;
